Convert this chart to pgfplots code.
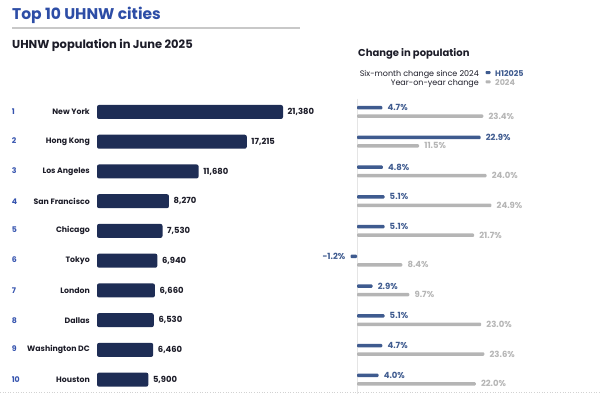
\documentclass[border=0pt]{standalone}
\usepackage{pgfplots}
\pgfplotsset{compat=1.18}
\usepackage{pgfplotstable}
\usepackage{fontspec}
\setmainfont{Poppins}
\definecolor{navy}{HTML}{1E2D55}
\definecolor{titleblue}{HTML}{2D4DA6}
\definecolor{rankblue}{HTML}{3553AE}
\definecolor{hblue}{HTML}{3F5B8F}
\definecolor{lgray}{HTML}{B5B5B5}
\definecolor{txt}{HTML}{1C1C28}
\definecolor{rule}{HTML}{C8C8C8}

\pgfplotstableread{
y pop
1 21380
2 17215
3 11680
4 8270
5 7530
6 6940
7 6660
8 6530
9 6460
10 5900
}\poptable

\pgfplotstableread{
y h1 y24
1 4.7 23.4
2 22.9 11.5
3 4.8 24.0
4 5.1 24.9
5 5.1 21.7
6 -1.2 8.4
7 2.9 9.7
8 5.1 23.0
9 4.7 23.6
10 4.0 22.0
}\chgtable

\newcommand\rk[2]{\makebox[78bp][l]{\textcolor{rankblue}{#1}\hfill #2}}

\pgfplotsset{rowaxis/.style={
  scale only axis, height=297.4bp, ymin=0.5, ymax=10.5, y dir=reverse,
  axis line style={draw=none}, xtick=\empty, major tick length=0pt,
  clip=false, xbar, anchor=north west}}

\begin{document}
\begin{tikzpicture}
\useasboundingbox (0,0) rectangle (600bp,-394bp);
% titles
\node[anchor=base west, inner sep=0, text=titleblue, font=\fontsize{15.5bp}{17bp}\selectfont\bfseries] at (12bp,-19.8bp) {Top 10 UHNW cities};
\draw[rule, line width=1.3bp] (12bp,-28bp) -- (300bp,-28bp);
\node[anchor=base west, inner sep=0, text=txt, font=\fontsize{11.5bp}{13bp}\selectfont\bfseries] at (12bp,-48bp) {UHNW population in June 2025};
\node[anchor=base west, inner sep=0, text=txt, font=\fontsize{10bp}{12bp}\selectfont\bfseries] at (358bp,-56.7bp) {Change in population};
% legend
\node[anchor=base east, inner sep=0, text=txt, font=\fontsize{8bp}{9bp}\selectfont] at (479bp,-76bp) {Six-month change since 2024};
\node[anchor=base east, inner sep=0, text=txt, font=\fontsize{8bp}{9bp}\selectfont] at (479bp,-85.3bp) {Year-on-year change};
\fill[hblue, rounded corners=0.8bp] (485.5bp,-71bp) rectangle (490.5bp,-74bp);
\fill[lgray, rounded corners=0.8bp] (485.5bp,-80.3bp) rectangle (490.5bp,-83.3bp);
\node[anchor=base west, inner sep=0, text=hblue, font=\fontsize{8bp}{9bp}\selectfont\bfseries] at (495bp,-76bp) {H12025};
\node[anchor=base west, inner sep=0, text=lgray, font=\fontsize{8bp}{9bp}\selectfont\bfseries] at (495bp,-85.3bp) {2024};
% bottom dotted rule
\draw[gray!35, dotted, line width=0.6bp] (0bp,-392.5bp) -- (600bp,-392.5bp);

% left chart
\begin{axis}[rowaxis, at={(97bp,-97.1bp)}, width=186bp, xmin=0, xmax=21380,
  bar width=14bp,
  ytick={1,...,10},
  yticklabels={\rk{1}{New York},\rk{2}{Hong Kong},\rk{3}{Los Angeles},\rk{4}{San Francisco},\rk{5}{Chicago},\rk{6}{Tokyo},\rk{7}{London},\rk{8}{Dallas},\rk{9}{Washington DC},\rk{10}{Houston}},
  yticklabel style={anchor=east, inner sep=0pt, xshift=-7bp, text=txt, font=\fontsize{7.8bp}{9bp}\selectfont\bfseries},
  /pgf/number format/.cd, fixed, 1000 sep={,}, assume math mode=true, /pgfplots/.cd,
  nodes near coords,
  every node near coord/.append style={text=txt, font=\fontsize{8.4bp}{9bp}\selectfont\bfseries, inner xsep=4.5bp},
]
\addplot[fill=navy, draw=none, rounded corners=2bp] table[x=pop, y=y] {\poptable};
\end{axis}

% right chart
\begin{axis}[rowaxis, at={(330bp,-97.1bp)}, width=189bp, xmin=-5, xmax=30,
  ytick=\empty, bar width=3.4bp,
  point meta=x,
  nodes near coords={\pgfmathprintnumber[fixed, fixed zerofill, precision=1, assume math mode=true]{\pgfplotspointmeta}\%},
]
\draw[gray!20, line width=0.5bp] (axis cs:0,0.55) -- (axis cs:0,10.6);
\addplot[fill=hblue, draw=none, rounded corners=1bp, bar shift=4.3bp,
  every node near coord/.append style={text=hblue, font=\fontsize{8.5bp}{9bp}\selectfont\bfseries, inner xsep=5bp}]
  table[x=h1, y=y] {\chgtable};
\addplot[fill=lgray, draw=none, rounded corners=1bp, bar shift=-4.2bp,
  every node near coord/.append style={text=lgray, font=\fontsize{8.5bp}{9bp}\selectfont\bfseries, inner xsep=5bp}]
  table[x=y24, y=y] {\chgtable};
\end{axis}
\end{tikzpicture}
\end{document}
